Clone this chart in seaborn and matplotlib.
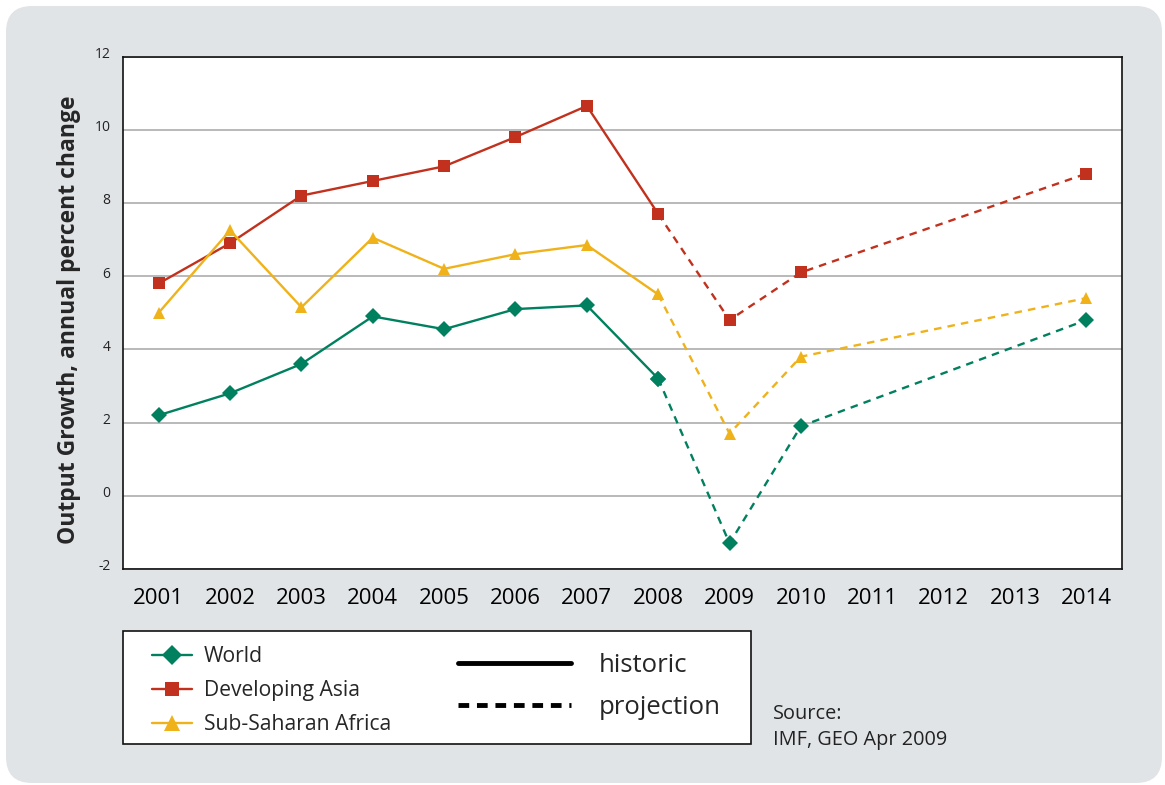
import pandas as pd
import matplotlib
matplotlib.use("Agg")
import matplotlib.pyplot as plt
import seaborn as sns
from matplotlib.lines import Line2D
from matplotlib.patches import FancyBboxPatch, Rectangle
from matplotlib.transforms import IdentityTransform, ScaledTranslation

years = ["2001", "2002", "2003", "2004", "2005", "2006", "2007",
         "2008", "2009", "2010", "2011", "2012", "2013", "2014"]

hist_years = ["2001", "2002", "2003", "2004", "2005", "2006", "2007", "2008"]
world_hist = [2.2, 2.8, 3.6, 4.9, 4.55, 5.1, 5.2, 3.2]
asia_hist = [5.8, 6.9, 8.2, 8.6, 9.0, 9.8, 10.65, 7.7]
ssa_hist = [5.0, 7.25, 5.15, 7.05, 6.2, 6.6, 6.85, 5.5]

proj_years = ["2008", "2009", "2010", "2014"]
world_proj = [3.2, -1.3, 1.9, 4.8]
asia_proj = [7.7, 4.8, 6.1, 8.8]
ssa_proj = [5.5, 1.7, 3.8, 5.4]

series = ["World", "Developing Asia", "Sub-Saharan Africa"]
colors = {"World": "#00805f", "Developing Asia": "#c1311d", "Sub-Saharan Africa": "#f0b21a"}
markers = {"World": "D", "Developing Asia": "s", "Sub-Saharan Africa": "^"}
msize = {"World": 8, "Developing Asia": 8, "Sub-Saharan Africa": 9}

rows = []
for name, h, p in zip(series, [world_hist, asia_hist, ssa_hist], [world_proj, asia_proj, ssa_proj]):
    for y, v in zip(hist_years, h):
        rows.append({"series": name, "year": y, "value": v, "period": "historic"})
    for y, v in zip(proj_years, p):
        rows.append({"series": name, "year": y, "value": v, "period": "projection"})
df = pd.DataFrame(rows)
df["pos"] = df["year"].map({y: i for i, y in enumerate(years)})

sns.set_style("white")
plt.rcParams["font.family"] = ["Open Sans", "DejaVu Sans"]

fig = plt.figure(figsize=(11.65, 7.85), dpi=100)
fig.patch.set_facecolor("white")

# grey rounded panel behind everything
bg = FancyBboxPatch((6, 2), 1156, 777, boxstyle="round,pad=0,rounding_size=26",
                    transform=IdentityTransform(), facecolor="#e1e4e7",
                    edgecolor="none", zorder=-10)
fig.patches.append(bg)

ax = fig.add_axes([0.1056, 0.2752, 0.8575, 0.6528])
ax.set_facecolor("white")

for name in series:
    for period, ls in [("historic", "-"), ("projection", (0, (3.2, 2.6)))]:
        sub = df[(df["series"] == name) & (df["period"] == period)]
        sns.lineplot(data=sub, x="pos", y="value", ax=ax, color=colors[name],
                     linestyle=ls, linewidth=1.7, marker=markers[name],
                     markersize=msize[name], markeredgewidth=0,
                     markeredgecolor=colors[name], zorder=3, legend=False)

ax.set_xlim(-0.5, len(years) - 0.5)
ax.set_ylim(-2, 12)
ax.set_yticks(range(-2, 13, 2))
ax.set_yticklabels([str(v) for v in range(-2, 13, 2)])
ax.set_xticks(range(len(years)))
ax.set_xticklabels(years)
ax.set_xticks([i - 0.5 for i in range(len(years) + 1)], minor=True)
ax.tick_params(axis="x", which="major", length=0, pad=14, labelsize=16, colors="black")
ax.tick_params(axis="x", which="minor", length=6, width=1.2, color="#222222", direction="out")
ax.tick_params(axis="y", length=0, pad=9, labelsize=10, labelcolor="#222222")
for lbl in ax.get_yticklabels():
    lbl.set_transform(lbl.get_transform() + ScaledTranslation(0, 0.04, fig.dpi_scale_trans))

ax.grid(axis="y", color="#a6a6a6", linewidth=1.1)
ax.grid(axis="x", visible=False)
ax.set_axisbelow(True)
for s in ax.spines.values():
    s.set_visible(True)
    s.set_color("#111111")
    s.set_linewidth(1.2)

ax.set_xlabel("")
ax.set_ylabel("Output Growth, annual percent change", fontsize=16.5, fontweight="bold")
ax.yaxis.set_label_coords(-0.042, 0.487)

# legend box
fig.patches.append(Rectangle((0.1056, 0.0522), 0.539, 0.1440, transform=fig.transFigure,
                             facecolor="white", edgecolor="#111111", linewidth=1.2, zorder=1))

series_handles = [Line2D([], [], color=colors[n], marker=markers[n], markersize=msize[n] + 2,
                         markeredgewidth=0, linewidth=1.7) for n in series]
leg1 = fig.legend(series_handles, series, loc="upper left", bbox_to_anchor=(0.1235, 0.1875),
                  frameon=False, fontsize=15.2, handlelength=1.9, handletextpad=0.55,
                  labelspacing=0.62, borderaxespad=0)
style_handles = [Line2D([], [], color="black", linewidth=3.5, linestyle="-"),
                 Line2D([], [], color="black", linewidth=3.5, linestyle=(0, (2.2, 1.6)))]
leg2 = fig.legend(style_handles, ["historic", "projection"], loc="upper left",
                  bbox_to_anchor=(0.384, 0.1815), frameon=False, fontsize=18.5,
                  handlelength=4.4, handletextpad=1.1, labelspacing=0.65, borderaxespad=0)

fig.text(0.6635, 0.044, "Source:\nIMF, GEO Apr 2009", fontsize=14.3, color="#222222",
         ha="left", va="bottom", linespacing=1.45)

fig.savefig("out.png", dpi=100)
